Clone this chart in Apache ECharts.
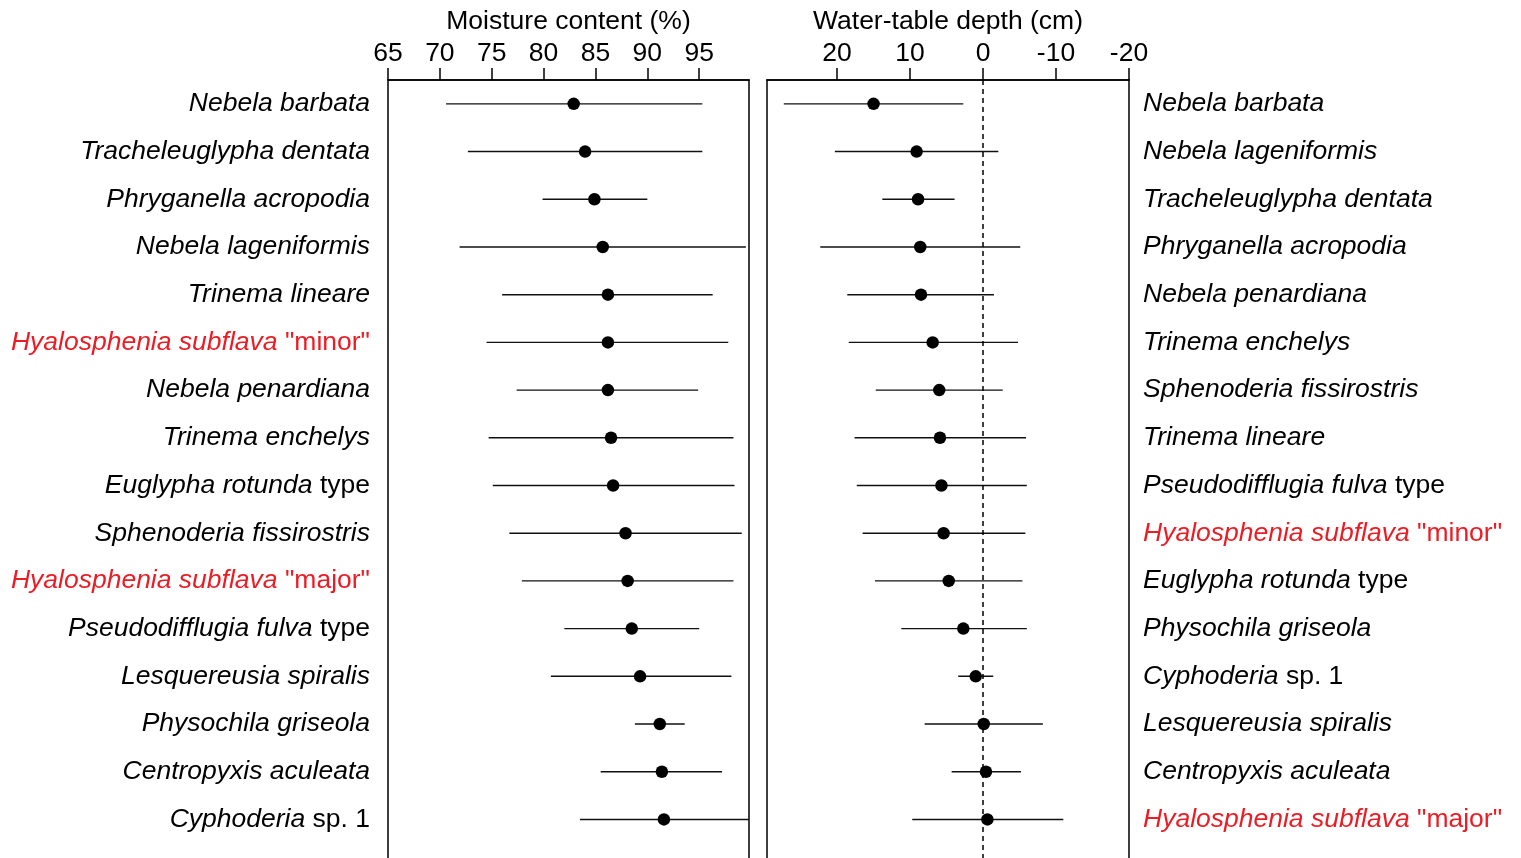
<!DOCTYPE html>
<html>
<head>
<meta charset="utf-8">
<script src="https://cdn.jsdelivr.net/npm/echarts@6/dist/echarts.min.js"></script>
<style>
html,body{margin:0;padding:0;background:#fff;}
#c{width:1521px;height:858px;}
</style>
</head>
<body>
<div id="c"></div>
<script>
// ---- Data ----
const moistureCategories = [
  'Nebela barbata', 'Tracheleuglypha dentata', 'Phryganella acropodia', 'Nebela lageniformis',
  'Trinema lineare', 'Hyalosphenia subflava "minor"', 'Nebela penardiana', 'Trinema enchelys',
  'Euglypha rotunda type', 'Sphenoderia fissirostris', 'Hyalosphenia subflava "major"',
  'Pseudodifflugia fulva type', 'Lesquereusia spiralis', 'Physochila griseola',
  'Centropyxis aculeata', 'Cyphoderia sp. 1'
];
const moistureMean = [82.9, 84.0, 84.9, 85.7, 86.2, 86.2, 86.2, 86.5, 86.7, 87.9, 88.1, 88.5, 89.3, 91.2, 91.4, 91.6];
const moistureLow  = [70.6, 72.7, 79.9, 71.9, 76.0, 74.5, 77.4, 74.7, 75.1, 76.7, 77.9, 82.0, 80.7, 88.8, 85.5, 83.5];
const moistureHigh = [95.3, 95.3, 90.0, 99.5, 96.3, 97.8, 94.9, 98.3, 98.4, 99.1, 98.3, 95.0, 98.1, 93.6, 97.2, 99.8];
const moistureTicks = [65, 70, 75, 80, 85, 90, 95];

const wtdCategories = [
  'Nebela barbata', 'Nebela lageniformis', 'Tracheleuglypha dentata', 'Phryganella acropodia',
  'Nebela penardiana', 'Trinema enchelys', 'Sphenoderia fissirostris', 'Trinema lineare',
  'Pseudodifflugia fulva type', 'Hyalosphenia subflava "minor"', 'Euglypha rotunda type',
  'Physochila griseola', 'Cyphoderia sp. 1', 'Lesquereusia spiralis', 'Centropyxis aculeata',
  'Hyalosphenia subflava "major"'
];
const wtdMean = [15.0, 9.1, 8.9, 8.6, 8.5, 6.9, 6.0, 5.9, 5.7, 5.4, 4.7, 2.7, 1.0, -0.1, -0.4, -0.6];
const wtdLow  = [27.3, 20.3, 13.8, 22.3, 18.6, 18.4, 14.7, 17.6, 17.3, 16.5, 14.8, 11.2, 3.4, 8.0, 4.3, 9.7];
const wtdHigh = [2.7, -2.1, 3.9, -5.1, -1.5, -4.8, -2.7, -5.9, -6.0, -5.8, -5.4, -6.0, -1.4, -8.2, -5.2, -11.0];
const wtdTicks = [20, 10, 0, -10, -20];

// ---- Helpers ----
const FONT = "'Liberation Sans', Arial, sans-serif";
const FS = 26.5;
const RED = '#ec1c24';
const suffixes = [' type', ' sp. 1', ' "minor"', ' "major"'];
function fmtLabel(name) {
  if (typeof name !== 'string' || name === '') return '';
  const red = name.indexOf('Hyalosphenia') === 0;
  let main = name, suf = '';
  for (const s of suffixes) {
    if (name.endsWith(s)) { main = name.slice(0, name.length - s.length); suf = s; break; }
  }
  const a = red ? 'itR' : 'it';
  const b = red ? 'nR' : 'n';
  return '{' + a + '|' + main + '}' + (suf ? '{' + b + '|' + suf + '}' : '');
}
const rich = {
  it: {fontStyle: 'italic', color: '#000', fontSize: FS, fontFamily: FONT},
  n: {fontStyle: 'normal', color: '#000', fontSize: FS, fontFamily: FONT},
  itR: {fontStyle: 'italic', color: RED, fontSize: FS, fontFamily: FONT},
  nR: {fontStyle: 'normal', color: RED, fontSize: FS, fontFamily: FONT}
};

function errRender(params, api) {
  const y = api.value(2);
  const p1 = api.coord([api.value(0), y]);
  const p2 = api.coord([api.value(1), y]);
  return {
    type: 'line',
    shape: {x1: p1[0], y1: p1[1], x2: p2[0], y2: p2[1]},
    style: {stroke: '#111', lineWidth: 1.4}
  };
}

const moistureErr = moistureLow.map((v, i) => [v, moistureHigh[i], i]);
const moisturePts = moistureMean.map((v, i) => [v, i]);
const wtdErr = wtdLow.map((v, i) => [v, wtdHigh[i], i]);
const wtdPts = wtdMean.map((v, i) => [v, i]);

const axisLineStyle = {color: '#000', width: 1.5};

const xCommon = {
  type: 'value',
  position: 'top',
  nameLocation: 'middle',
  nameGap: 45,
  nameTextStyle: {fontSize: FS, fontFamily: FONT, color: '#000'},
  axisLine: {show: true, lineStyle: axisLineStyle},
  axisTick: {show: true, inside: false, length: 12, lineStyle: axisLineStyle},
  axisLabel: {fontSize: FS, fontFamily: FONT, color: '#000', margin: 13},
  splitLine: {show: false}
};

const GRID_H = 811;

const option = {
  animation: false,
  backgroundColor: '#fff',
  grid: [
    {left: 388, width: 361, top: 80, height: GRID_H, outerBoundsMode: 'none', containLabel: false,
     show: true, borderColor: '#000', borderWidth: 1.5, backgroundColor: 'transparent'},
    {left: 767, width: 362, top: 80, height: GRID_H, outerBoundsMode: 'none', containLabel: false,
     show: true, borderColor: '#000', borderWidth: 1.5, backgroundColor: 'transparent'}
  ],
  xAxis: [
    Object.assign({}, xCommon, {
      gridIndex: 0, min: 65, max: 99.8, name: 'Moisture content (%)',
      axisTick: Object.assign({}, xCommon.axisTick, {customValues: moistureTicks}),
      axisLabel: Object.assign({}, xCommon.axisLabel, {customValues: moistureTicks})
    }),
    Object.assign({}, xCommon, {
      gridIndex: 1, min: -20, max: 29.6, inverse: true, name: 'Water-table depth (cm)',
      axisTick: Object.assign({}, xCommon.axisTick, {customValues: wtdTicks}),
      axisLabel: Object.assign({}, xCommon.axisLabel, {customValues: wtdTicks})
    })
  ],
  yAxis: [
    {
      gridIndex: 0, type: 'category', data: moistureCategories, inverse: true, max: 16,
      position: 'left',
      axisLine: {show: false}, axisTick: {show: false}, splitLine: {show: false},
      axisLabel: {margin: 18, formatter: (v) => fmtLabel(v), rich: rich, fontSize: FS, fontFamily: FONT}
    },
    {
      gridIndex: 1, type: 'category', data: wtdCategories, inverse: true, max: 16,
      position: 'right',
      axisLine: {show: false}, axisTick: {show: false}, splitLine: {show: false},
      axisLabel: {margin: 14, formatter: (v) => fmtLabel(v), rich: rich, fontSize: FS, fontFamily: FONT}
    }
  ],
  series: [
    {
      type: 'custom', xAxisIndex: 0, yAxisIndex: 0, renderItem: errRender,
      dimensions: ['low', 'high', 'row'],
      encode: {x: ['low', 'high'], y: 'row'}, data: moistureErr, silent: true
    },
    {
      type: 'scatter', xAxisIndex: 0, yAxisIndex: 0, data: moisturePts,
      symbol: 'circle', symbolSize: 12.5, itemStyle: {color: '#000', opacity: 1}, silent: true
    },
    {
      type: 'custom', xAxisIndex: 1, yAxisIndex: 1, renderItem: errRender,
      dimensions: ['low', 'high', 'row'],
      encode: {x: ['low', 'high'], y: 'row'}, data: wtdErr, silent: true
    },
    {
      type: 'scatter', xAxisIndex: 1, yAxisIndex: 1, data: wtdPts,
      symbol: 'circle', symbolSize: 12.5, itemStyle: {color: '#000', opacity: 1}, silent: true,
      markLine: {
        silent: true, symbol: 'none', label: {show: false}, animation: false,
        lineStyle: {color: '#000', type: [5, 4], width: 1.5},
        data: [{xAxis: 0}]
      }
    }
  ]
};

const chart = echarts.init(document.getElementById('c'), null, {renderer: 'canvas'});
chart.setOption(option);
</script>
</body>
</html>
